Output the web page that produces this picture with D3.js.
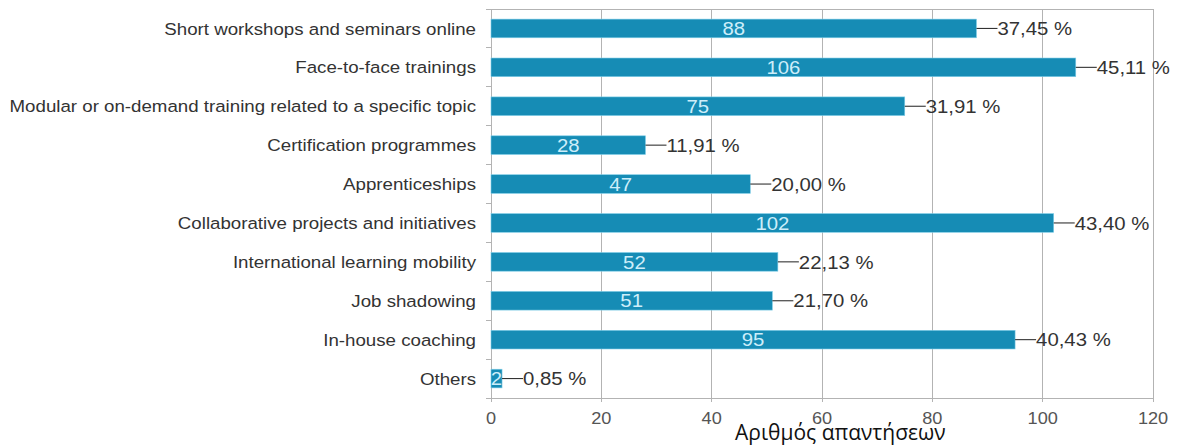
<!DOCTYPE html>
<html>
<head>
<meta charset="utf-8">
<script src="https://cdn.jsdelivr.net/npm/d3@7"></script>
<style>
  html, body { margin: 0; padding: 0; background: #ffffff; }
  svg { display: block; }
</style>
</head>
<body>
<svg id="chart" width="1188" height="445"></svg>
<script>
// Training formats and number of responses (n = 235)
const categories = [
  "Short workshops and seminars online",
  "Face-to-face trainings",
  "Modular or on-demand training related to a specific topic",
  "Certification programmes",
  "Apprenticeships",
  "Collaborative projects and initiatives",
  "International learning mobility",
  "Job shadowing",
  "In-house coaching",
  "Others"
];
const counts = [88, 106, 75, 28, 47, 102, 52, 51, 95, 2];
const percentLabels = ["37,45 %", "45,11 %", "31,91 %", "11,91 %", "20,00 %",
                       "43,40 %", "22,13 %", "21,70 %", "40,43 %", "0,85 %"];
const xTicks = [0, 20, 40, 60, 80, 100, 120];
const axisTitle = "Αριθμός απαντήσεων";

const svg = d3.select("#chart");
const plot = { left: 491, right: 1153, top: 9, bottom: 398 };

const x = d3.scaleLinear().domain([0, 120]).range([plot.left, plot.right]);
const y = d3.scaleBand().domain(categories).range([plot.top, plot.bottom])
  .paddingInner(0.52).paddingOuter(0.26);
const band = d3.scaleBand().domain(categories).range([plot.top, plot.bottom]);

const gridColor = "#b3b3b3";
const barColor = "#168cb5";
const labelFont = "Liberation Sans, Arial, sans-serif";
const widen = 1.1; // labels are set slightly wide

// places a text at (px, py) with a horizontal widening
function place(sel, px, py) {
  sel.attr("transform", (d, i) => `translate(${px(d, i)},${py(d, i)}) scale(${widen},1)`);
}

// vertical grid lines
svg.append("g").selectAll("line").data(xTicks).join("line")
  .attr("x1", d => x(d)).attr("x2", d => x(d))
  .attr("y1", plot.top).attr("y2", plot.bottom + 4)
  .attr("stroke", gridColor).attr("stroke-width", 1)
  .attr("shape-rendering", "crispEdges");

// frame: top and bottom edges
svg.append("line").attr("x1", plot.left).attr("x2", plot.right)
  .attr("y1", plot.top).attr("y2", plot.top)
  .attr("stroke", gridColor).attr("shape-rendering", "crispEdges");
svg.append("line").attr("x1", plot.left - 5).attr("x2", plot.right)
  .attr("y1", plot.bottom).attr("y2", plot.bottom)
  .attr("stroke", gridColor).attr("shape-rendering", "crispEdges");

// category separator ticks on the left axis
const sepY = categories.map(c => band(c)).concat([plot.bottom]);
svg.append("g").selectAll("line").data(sepY).join("line")
  .attr("x1", plot.left - 5).attr("x2", plot.left)
  .attr("y1", d => d).attr("y2", d => d)
  .attr("stroke", gridColor).attr("shape-rendering", "crispEdges");

// x tick labels
svg.append("g").selectAll("text").data(xTicks).join("text")
  .call(place, d => x(d), () => 424)
  .attr("text-anchor", "middle")
  .attr("font-family", labelFont)
  .attr("font-size", 16.5).attr("fill", "#555")
  .text(d => d);

// category labels
svg.append("g").selectAll("text").data(categories).join("text")
  .call(place, () => 476, c => y(c) + y.bandwidth() / 2)
  .attr("dy", "0.36em")
  .attr("text-anchor", "end")
  .attr("font-family", labelFont)
  .attr("font-size", 17).attr("fill", "#333")
  .text(c => c);

const rows = categories.map((c, i) => ({ c, v: counts[i], p: percentLabels[i] }));

// bars
svg.append("g").selectAll("rect").data(rows).join("rect")
  .attr("x", x(0)).attr("y", d => y(d.c))
  .attr("width", d => x(d.v) - x(0)).attr("height", y.bandwidth())
  .attr("fill", barColor)
  .attr("stroke", "#7fcde8").attr("stroke-width", 0.6);

// count labels centred inside bars
svg.append("g").selectAll("text").data(rows).join("text")
  .call(place, d => (x(0) + x(d.v)) / 2, d => y(d.c) + y.bandwidth() / 2)
  .attr("dy", "0.36em")
  .attr("text-anchor", "middle")
  .attr("font-family", labelFont)
  .attr("font-size", 18.5).attr("fill", "#cdeefa")
  .text(d => d.v);

// percentage labels with leader lines
const gap = 21;
const pct = svg.append("g");
pct.selectAll("line").data(rows).join("line")
  .attr("x1", d => x(d.v)).attr("x2", d => x(d.v) + gap)
  .attr("y1", d => y(d.c) + y.bandwidth() / 2)
  .attr("y2", d => y(d.c) + y.bandwidth() / 2)
  .attr("stroke", "#333").attr("stroke-width", 1.1);
pct.selectAll("text").data(rows).join("text")
  .call(place, d => x(d.v) + gap, d => y(d.c) + y.bandwidth() / 2)
  .attr("dy", "0.36em")
  .attr("font-family", labelFont)
  .attr("font-size", 18.5).attr("fill", "#333")
  .text(d => d.p);

// axis title
svg.append("text")
  .attr("x", 735).attr("y", 440)
  .attr("font-family", "Open Sans, Noto Sans, sans-serif")
  .attr("font-size", 21).attr("fill", "#111")
  .text(axisTitle);
</script>
</body>
</html>
